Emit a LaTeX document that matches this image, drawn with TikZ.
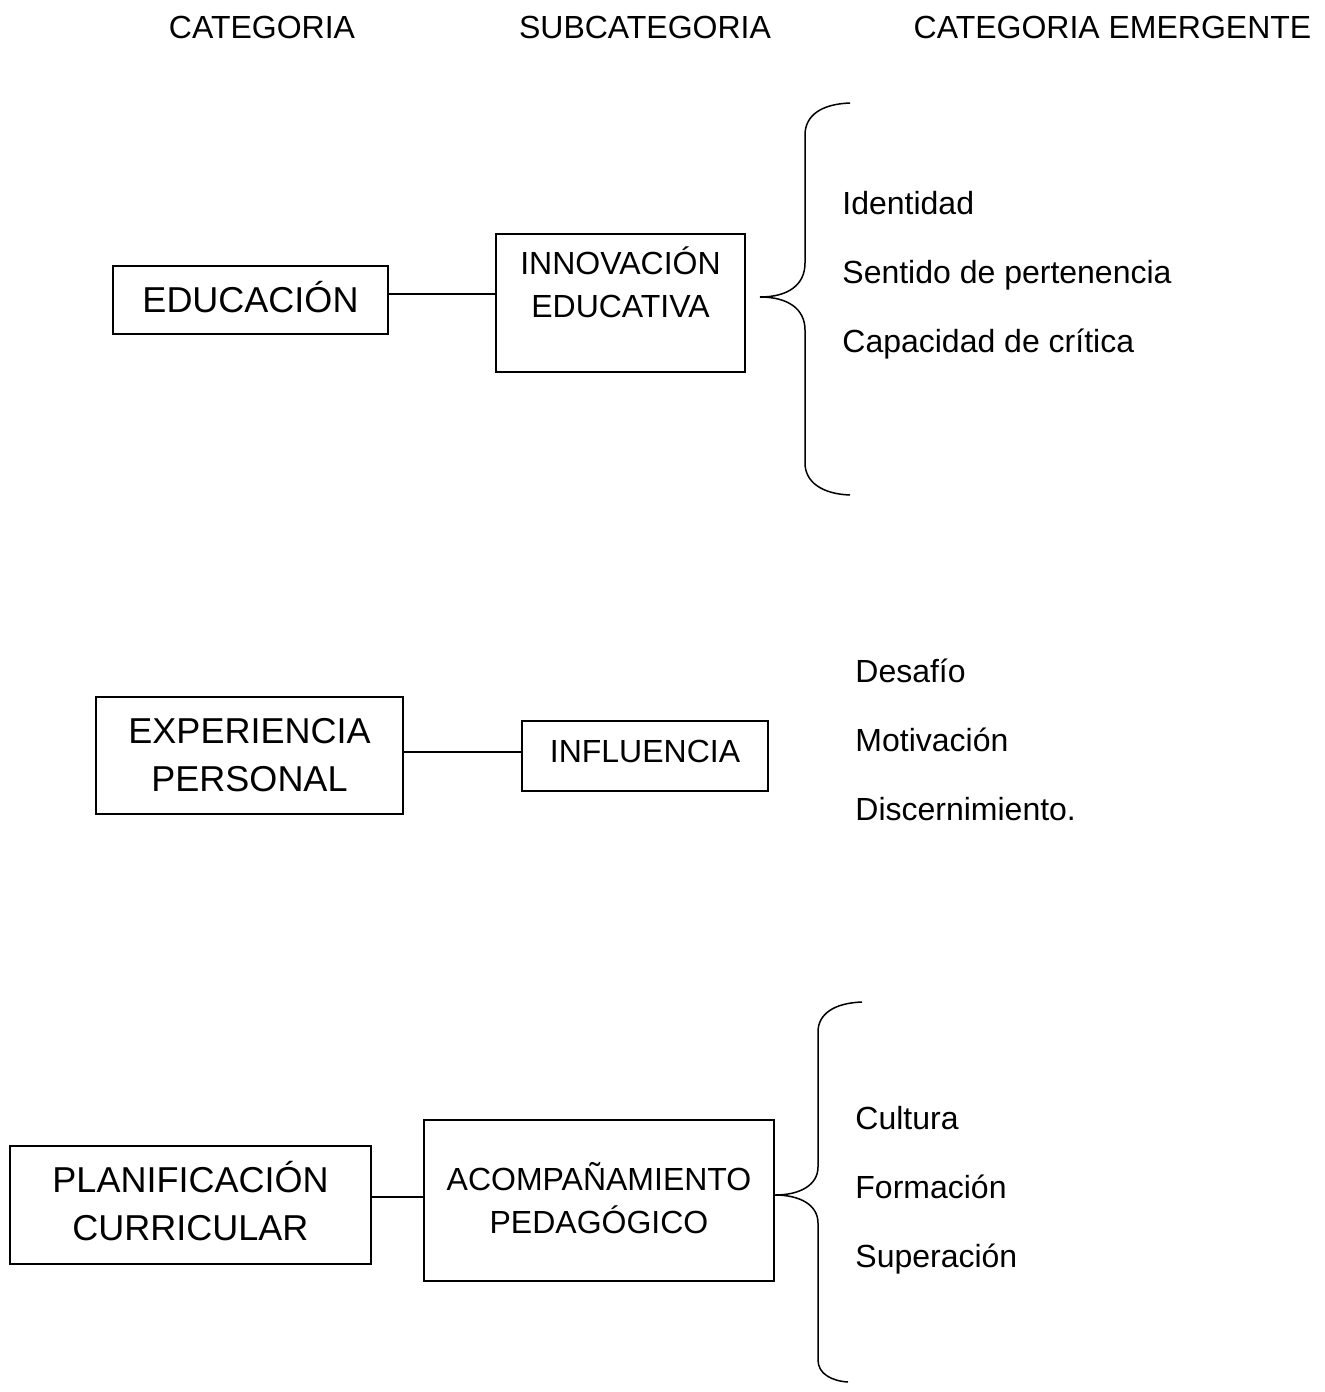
\documentclass[tikz,border=0pt]{standalone}
\usepackage{fontspec}
\setmainfont{Liberation Sans}
\tikzset{
  caja/.style={draw, line width=1.4pt, inner sep=0pt, align=center},
  grande/.style={font=\fontsize{18}{24}\selectfont},
  normal/.style={font=\fontsize{16}{21.5}\selectfont},
  item/.style={normal, anchor=base west, inner sep=0pt},
  titulo/.style={normal, anchor=base, inner sep=0pt},
  conector/.style={line width=1pt},
  llave/.style={line width=0.75pt}
}
\begin{document}
\begin{tikzpicture}[x=0.5pt,y=-0.5pt]
  \useasboundingbox (0,0) rectangle (1324,1392);
  % encabezados
  \node[titulo] (hcat) at (262,38.5) {CATEGORIA};
  \node[titulo] (hsub) at (645,38.5) {SUBCATEGORIA};
  \node[titulo] (hemer) at (1112.5,38.5) {CATEGORIA EMERGENTE};
  % primera fila
  \node[caja, grande, minimum width=137.5pt, minimum height=34pt,
    text height=12.9pt, text depth=0pt] (edu) at (250.5,300) {EDUCACIÓN};
  \node[caja, minimum width=124.5pt, minimum height=69pt] (innov) at (620.5,303) {};
  \node[normal, align=center, inner sep=0pt] (innovtxt) at (620.5,282) {INNOVACIÓN\\EDUCATIVA};
  \draw[conector] ([yshift=3pt]edu.east) -- ([yshift=3pt]edu.east -| innov.west);
  \draw[llave] (850,103) .. controls (822,104) and (805,115) .. (805,135) -- (805,263)
    .. controls (805,285) and (788,297) .. (760,297)
    .. controls (788,297) and (805,309) .. (805,330) -- (805,463)
    .. controls (805,482) and (822,494) .. (850,495);
  \node[item] (ident) at (842,214.5) {Identidad};
  \node[item] (sentido) at (842,283.5) {Sentido de pertenencia};
  \node[item] (critica) at (842,352.5) {Capacidad de crítica};
  % segunda fila
  \node[caja, grande, minimum width=153.5pt, minimum height=58.5pt] (exper) at (249.5,755.5) {EXPERIENCIA\\PERSONAL};
  \node[caja, normal, minimum width=123pt, minimum height=35pt,
    text height=11.5pt, text depth=5pt] (influ) at (645,756) {INFLUENCIA};
  \draw[conector] ([yshift=1.75pt]exper.east) -- ([yshift=1.75pt]exper.east -| influ.west);
  \node[item] (desafio) at (855,682.5) {Desafío};
  \node[item] (motiv) at (855,751.5) {Motivación};
  \node[item] (discer) at (855,820.5) {Discernimiento.};
  % tercera fila
  \node[caja, grande, minimum width=180.5pt, minimum height=59pt,
    text depth=4pt] (plan) at (190.5,1205) {PLANIFICACIÓN\\CURRICULAR};
  \node[caja, normal, minimum width=175pt, minimum height=80.5pt,
    text depth=3pt] (acomp) at (599,1200.5) {ACOMPAÑAMIENTO\\PEDAGÓGICO};
  \draw[conector] ([yshift=4pt]plan.east) -- ([yshift=4pt]plan.east -| acomp.west);
  \draw[llave] (862,1002) .. controls (834,1003) and (818,1014) .. (818,1032) -- (818,1167)
    .. controls (818,1185) and (800,1195) .. (775,1195)
    .. controls (800,1195) and (818,1205) .. (818,1223) -- (818,1360)
    .. controls (818,1374) and (832,1381) .. (848,1382);
  \node[item] (cultura) at (855,1129.5) {Cultura};
  \node[item] (formac) at (855,1198.5) {Formación};
  \node[item] (superac) at (855,1267.5) {Superación};
\end{tikzpicture}
\end{document}
